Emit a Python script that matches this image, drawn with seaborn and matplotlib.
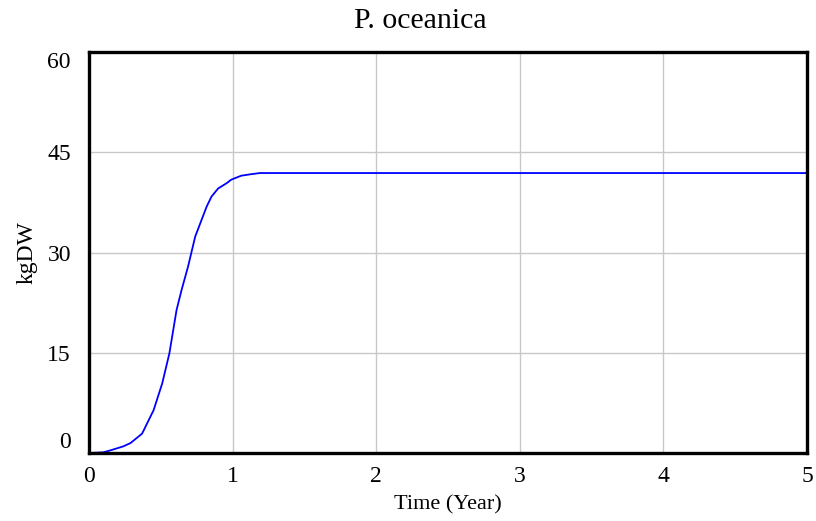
import pandas as pd
import seaborn as sns
import matplotlib.pyplot as plt

# DATOS (P. oceanica, kgDW frente al tiempo en años)
time_year = [0, 0.10, 0.15, 0.24, 0.29, 0.37, 0.45, 0.51, 0.56, 0.61, 0.645, 0.69,
             0.74, 0.82, 0.854, 0.90, 0.96, 0.99, 1.06, 1.12, 1.19, 5]
kgdw = [0, 0.1, 0.4, 1.0, 1.5, 2.9, 6.4, 10.4, 14.9, 21.4, 24.4, 27.9,
        32.4, 36.9, 38.4, 39.6, 40.4, 40.9, 41.5, 41.7, 41.9, 41.9]

x_ticks = [0, 1, 2, 3, 4, 5]
y_ticks = [0, 15, 30, 45, 60]

df = pd.DataFrame({'Time': time_year, 'kgDW': kgdw})

sns.set_style('white')
plt.rcParams['font.family'] = ['Liberation Serif', 'DejaVu Serif']
plt.rcParams['text.color'] = 'black'
plt.rcParams['axes.labelcolor'] = 'black'
plt.rcParams['xtick.color'] = 'black'
plt.rcParams['ytick.color'] = 'black'

fig = plt.figure(figsize=(8.16, 5.21), dpi=100)
ax = fig.add_axes([0.109, 0.1305, 0.880, 0.7695])

sns.lineplot(data=df, x='Time', y='kgDW', color='#0000ff', linewidth=1.3, ax=ax)

ax.set_xlim(0, 5)
ax.set_ylim(0, 60)
ax.set_xticks(x_ticks)
ax.set_yticks(y_ticks)
ax.grid(True, color='#c8c8c8', linewidth=1.0)
ax.tick_params(axis='both', length=0, labelsize=17)
ax.tick_params(axis='y', pad=13)
ax.tick_params(axis='x', pad=9)

# etiquetas extremas del eje y dentro del rango, como en el original
ylabels = ax.get_yticklabels()
ylabels[0].set_va('bottom')
ylabels[-1].set_va('top')

for s in ax.spines.values():
    s.set_visible(True)
    s.set_color('black')
    s.set_linewidth(2.4)

ax.set_xlabel('Time (Year)', fontsize=16, labelpad=6)
ax.set_ylabel('kgDW', fontsize=17, labelpad=7)
fig.text(0.515, 0.96, 'P. oceanica', fontsize=21.5, ha='center', va='center')

plt.savefig('out.png', dpi=100)
